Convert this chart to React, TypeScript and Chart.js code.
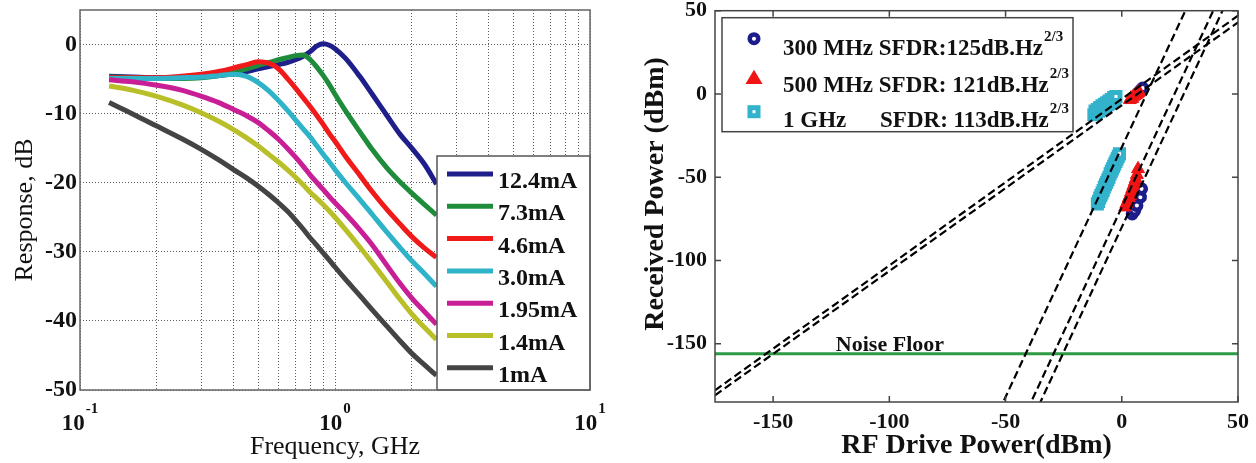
import React, { useEffect, useRef } from 'react';
import { Chart, registerables } from 'chart.js';
Chart.register(...registerables);

const SERIF = '"Liberation Serif", "Times New Roman", serif';
const INK = '#111111';

// ---------------- Left panel data ----------------
const FREQ_GHZ = [0.13, 0.16, 0.2, 0.25, 0.3, 0.35, 0.4, 0.45, 0.5, 0.55, 0.6, 0.65, 0.7, 0.75, 0.8, 0.85, 0.9, 0.95, 1.0, 1.1, 1.25, 1.4, 1.6, 1.8, 2.0, 2.25, 2.5];
const CURRENT_LABELS = ['12.4mA', '7.3mA', '4.6mA', '3.0mA', '1.95mA', '1.4mA', '1mA'];
const CURVE_COLORS = ['#1f1f8c', '#1f8c3c', '#f01a1a', '#2fb3c8', '#c81e96', '#b8bf28', '#444444'];
const RESP_12_4 = [-4.6, -4.7, -4.8, -4.8, -4.7, -4.5, -4.2, -3.9, -3.5, -3.2, -2.9, -2.6, -2.2, -1.7, -1.0, -0.2, 0.1, -0.1, -0.6, -2.0, -4.6, -7.2, -10.3, -13.0, -15.0, -17.4, -20.2];
const RESP_7_3 = [-4.7, -4.8, -4.9, -4.9, -4.8, -4.5, -4.0, -3.5, -3.0, -2.6, -2.2, -1.9, -1.6, -1.5, -2.2, -3.3, -4.5, -5.8, -7.2, -9.6, -12.6, -15.2, -17.9, -19.9, -21.5, -23.2, -24.7];
const RESP_4_6 = [-4.8, -4.8, -4.8, -4.6, -4.3, -3.9, -3.4, -2.9, -2.5, -2.7, -3.5, -4.9, -6.3, -7.7, -9.0, -10.3, -11.6, -12.9, -14.0, -16.2, -18.9, -21.3, -23.9, -26.0, -27.8, -29.5, -30.8];
const RESP_3_0 = [-4.9, -4.9, -4.9, -4.8, -4.7, -4.5, -4.3, -4.6, -5.5, -6.7, -8.1, -9.5, -10.9, -12.2, -13.4, -14.7, -15.9, -17.0, -18.1, -20.0, -22.4, -24.6, -27.2, -29.4, -31.3, -33.2, -35.0];
const RESP_1_95 = [-5.1, -5.4, -5.9, -6.6, -7.5, -8.4, -9.4, -10.3, -11.3, -12.5, -13.7, -15.0, -16.3, -17.6, -18.9, -20.0, -21.0, -22.0, -22.9, -24.5, -26.8, -29.0, -32.0, -34.6, -36.7, -38.7, -40.5];
const RESP_1_4 = [-6.0, -6.6, -7.5, -8.7, -9.9, -11.1, -12.3, -13.5, -14.7, -15.9, -17.0, -18.1, -19.2, -20.3, -21.4, -22.3, -23.2, -24.1, -25.0, -26.8, -29.3, -31.6, -34.4, -36.9, -39.0, -41.0, -42.7];
const RESP_1_0 = [-8.4, -10.0, -11.8, -13.6, -15.2, -16.7, -18.1, -19.3, -20.5, -21.7, -22.9, -24.1, -25.4, -26.7, -28.0, -29.1, -30.2, -31.2, -32.2, -34.0, -36.3, -38.4, -40.8, -42.9, -44.7, -46.4, -47.9];
const RESP_SERIES = [RESP_12_4, RESP_7_3, RESP_4_6, RESP_3_0, RESP_1_95, RESP_1_4, RESP_1_0];
const LEFT_Y_TICKS = [-50, -40, -30, -20, -10, 0];
const LEFT_X_GRID = [0.1, 0.2, 0.3, 0.4, 0.5, 0.6, 0.7, 0.8, 0.9, 1, 2, 3, 4, 5, 6, 7, 8, 9, 10];
const LEFT_X_MAJOR = [0.1, 1, 10];
const LEFT_X_EXP = ['-1', '0', '1'];

// ---------------- Right panel data ----------------
const RIGHT_X_TICKS = [-150, -100, -50, 0, 50];
const RIGHT_Y_TICKS = [-150, -100, -50, 0, 50];
const FUND_X = [-175, 50];
const FUND_Y_A = [-178, 47];
const FUND_Y_B = [-181, 43];
const IMD3_A_X = [-55, 30];
const IMD3_A_Y = [-197, 58];
const IMD3_B_X = [-45, 42];
const IMD3_B_Y = [-203, 58];
const IMD3_C_X = [-40, 46];
const IMD3_C_Y = [-200, 58];
const NOISE_X = [-175, 50];
const NOISE_Y = [-156, -156];
const NOISE_LABEL_X = -123;

const GHZ1_FUND_X = [-12, -11.5, -11, -10.5, -10, -9.5, -9, -8.5, -8, -7.5, -7, -6.5, -6, -5.5, -5, -4.5, -4, -3.5, -3, -2.5];
const GHZ1_FUND_Y = [-12.5, -10.2, -11.4, -9.3, -10.4, -8.2, -9.5, -7.1, -8.6, -6.2, -7.4, -5.3, -6.5, -4.2, -5.6, -3.3, -4.5, -2.2, -3.4, -1.5];
const GHZ1_IMD_X = [-10.5, -10, -9.5, -9, -8.5, -8, -7.5, -7, -6.5, -6, -5.5, -5, -4.5, -4, -3.5, -3, -2.5, -2, -1.5, -1];
const GHZ1_IMD_Y = [-66, -64.5, -62.5, -61, -59.5, -58, -56, -54.5, -53, -51.5, -50, -48, -46.5, -45, -43.5, -42, -40.5, -39, -37.5, -36];
const MHZ500_FUND_X = [3.5, 4, 4.5, 5, 5.5, 6, 6.5, 7, 7.5];
const MHZ500_FUND_Y = [-3.5, -2.5, -2.8, -1.5, -1.0, -0.5, 0, 0.5, 1.2];
const MHZ500_IMD_X = [1.5, 2, 2.5, 3, 3.5, 4, 4.5, 5, 5.5, 6, 6.5, 7];
const MHZ500_IMD_Y = [-68, -66, -64.5, -62.5, -61, -59, -57, -55, -53, -51, -48.5, -45];
const MHZ300_FUND_X = [7, 8, 9];
const MHZ300_FUND_Y = [0.5, 2, 3.5];
const MHZ300_IMD_X = [4.5, 5.5, 6.5, 8, 8.5];
const MHZ300_IMD_Y = [-72, -70, -67, -62, -57];

const LEGEND_MAIN = ['300 MHz SFDR:125dB.Hz', '500 MHz SFDR: 121dB.Hz', 'SFDR: 113dB.Hz'];
const LEGEND_PREFIX3 = '1 GHz';
const LEGEND_SUP = '2/3';
const NAVY = '#1c1c8a';
const RED = '#f01414';
const CYAN = '#33b2cc';
const NOISE_GREEN = '#2e9a44';

const pts = (xs: number[], ys: number[]) => xs.map((x, i) => ({ x, y: ys[i] }));
const noPad = (s: any) => { s.paddingTop = 0; s.paddingBottom = 0; s.paddingLeft = 0; s.paddingRight = 0; };

// ---------------- Left chart ----------------
const leftDeco = {
  id: 'leftDeco',
  afterDatasetsDraw(chart: any) {
    const { ctx, chartArea: a } = chart;
    ctx.save();
    const bw = 153, bh = 234;
    const bx = a.right - bw, by = a.bottom - bh;
    ctx.fillStyle = '#fff';
    ctx.fillRect(bx, by, bw, bh);
    ctx.strokeStyle = '#555';
    ctx.lineWidth = 1.5;
    ctx.strokeRect(bx, by, bw, bh);
    ctx.font = `bold 24px ${SERIF}`;
    ctx.textBaseline = 'alphabetic';
    ctx.textAlign = 'left';
    CURRENT_LABELS.forEach((lab, i) => {
      const ly = by + 18 + i * 32.3;
      ctx.strokeStyle = CURVE_COLORS[i];
      ctx.lineWidth = 5;
      ctx.beginPath();
      ctx.moveTo(bx + 10, ly);
      ctx.lineTo(bx + 56, ly);
      ctx.stroke();
      ctx.fillStyle = INK;
      ctx.fillText(lab, bx + 61, ly + 14);
    });
    ctx.strokeStyle = '#666';
    ctx.lineWidth = 1.5;
    ctx.strokeRect(a.left, a.top, a.right - a.left, a.bottom - a.top);
    ctx.restore();
  },
  afterDraw(chart: any) {
    const { ctx, chartArea: a, scales } = chart;
    ctx.save();
    ctx.fillStyle = INK;
    LEFT_X_MAJOR.forEach((v, i) => {
      const px = scales.x.getPixelForValue(v);
      ctx.font = `bold 23px ${SERIF}`;
      const w10 = ctx.measureText('10').width;
      ctx.font = `bold 15px ${SERIF}`;
      const we = ctx.measureText(LEFT_X_EXP[i]).width;
      const start = px - (w10 + we + 1) / 2;
      ctx.textAlign = 'left';
      ctx.textBaseline = 'alphabetic';
      ctx.font = `bold 23px ${SERIF}`;
      ctx.fillText('10', start, 430);
      ctx.font = `bold 15px ${SERIF}`;
      ctx.fillText(LEFT_X_EXP[i], start + w10 + 1, 413);
    });
    ctx.font = `26px ${SERIF}`;
    ctx.textAlign = 'center';
    ctx.textBaseline = 'middle';
    ctx.fillText('Frequency, GHz', (a.left + a.right) / 2, 447);
    ctx.translate(25, (a.top + a.bottom) / 2 + 10);
    ctx.rotate(-Math.PI / 2);
    ctx.fillText('Response, dB', 0, 0);
    ctx.restore();
  },
};

function LeftPanel() {
  const ref = useRef<HTMLCanvasElement>(null);
  useEffect(() => {
    const gridOpts = { color: 'rgba(40,40,40,0.75)', lineWidth: 1, drawTicks: false };
    const chart = new Chart(ref.current as HTMLCanvasElement, {
      type: 'line',
      data: {
        datasets: RESP_SERIES.map((ys, i) => ({
          label: CURRENT_LABELS[i],
          data: pts(FREQ_GHZ, ys),
          borderColor: CURVE_COLORS[i],
          backgroundColor: CURVE_COLORS[i],
          borderWidth: 5,
          pointRadius: 0,
          cubicInterpolationMode: 'monotone' as const,
          fill: false,
          order: 10 - i,
        })),
      },
      options: {
        animation: false,
        responsive: false,
        maintainAspectRatio: false,
        parsing: false,
        layout: { padding: { left: 0, right: 38, top: 10, bottom: 0 } },
        plugins: { legend: { display: false }, tooltip: { enabled: false } },
        scales: {
          x: {
            type: 'logarithmic',
            min: 0.1,
            max: 10,
            afterBuildTicks: (s: any) => { s.ticks = LEFT_X_GRID.map((v) => ({ value: v })); },
            afterFit: (s: any) => { s.height = 73; noPad(s); },
            ticks: { display: false },
            grid: gridOpts,
            border: { display: false, dash: [1, 2] },
          },
          y: {
            type: 'linear',
            min: -50,
            max: 5,
            afterBuildTicks: (s: any) => { s.ticks = LEFT_Y_TICKS.map((v) => ({ value: v })); },
            afterFit: (s: any) => { s.width = 80; noPad(s); },
            ticks: { font: { family: SERIF, size: 24, weight: 'bold' }, color: INK, padding: 3 },
            grid: gridOpts,
            border: { display: false, dash: [1, 2] },
          },
        },
      } as any,
      plugins: [leftDeco],
    });
    return () => chart.destroy();
  }, []);
  return <canvas ref={ref} width={628} height={463} style={{ position: 'absolute', left: 0, top: 0, width: 628, height: 463 }} />;
}

// ---------------- Right chart ----------------
function drawMarker(ctx: CanvasRenderingContext2D, kind: string, x: number, y: number) {
  ctx.save();
  if (kind === 'circle') {
    ctx.beginPath();
    ctx.arc(x, y, 4.3, 0, Math.PI * 2);
    ctx.fillStyle = '#fff';
    ctx.fill();
    ctx.lineWidth = 4.5;
    ctx.strokeStyle = NAVY;
    ctx.stroke();
  } else if (kind === 'triangle') {
    const r = 9;
    ctx.beginPath();
    ctx.moveTo(x, y - r);
    ctx.lineTo(x + r * 0.95, y + r * 0.6);
    ctx.lineTo(x - r * 0.95, y + r * 0.6);
    ctx.closePath();
    ctx.fillStyle = RED;
    ctx.fill();
  } else {
    ctx.fillStyle = CYAN;
    ctx.fillRect(x - 6.5, y - 6.5, 13, 13);
    ctx.fillStyle = '#fff';
    ctx.fillRect(x - 1.5, y - 1.5, 3, 3);
  }
  ctx.restore();
}

const rightDeco = {
  id: 'rightDeco',
  afterDatasetsDraw(chart: any) {
    const { ctx, chartArea: a, scales } = chart;
    ctx.save();
    ctx.fillStyle = INK;
    ctx.font = `bold 22px ${SERIF}`;
    ctx.textAlign = 'left';
    ctx.textBaseline = 'alphabetic';
    ctx.fillText('Noise Floor', scales.x.getPixelForValue(NOISE_LABEL_X), scales.y.getPixelForValue(NOISE_Y[0]) - 3);
    ctx.strokeStyle = '#444';
    ctx.lineWidth = 1.5;
    ctx.strokeRect(a.left, a.top, a.right - a.left, a.bottom - a.top);
    ctx.beginPath();
    RIGHT_X_TICKS.forEach((v) => {
      const px = scales.x.getPixelForValue(v);
      ctx.moveTo(px, a.bottom); ctx.lineTo(px, a.bottom - 6);
      ctx.moveTo(px, a.top); ctx.lineTo(px, a.top + 6);
    });
    RIGHT_Y_TICKS.forEach((v) => {
      const py = scales.y.getPixelForValue(v);
      ctx.moveTo(a.left, py); ctx.lineTo(a.left + 6, py);
      ctx.moveTo(a.right, py); ctx.lineTo(a.right - 6, py);
    });
    ctx.stroke();
    const bx = a.left + 7, by = a.top + 7, bw = 351, bh = 114;
    ctx.fillStyle = '#fff';
    ctx.fillRect(bx, by, bw, bh);
    ctx.strokeStyle = '#444';
    ctx.lineWidth = 1.5;
    ctx.strokeRect(bx, by, bw, bh);
    const kinds = ['circle', 'triangle', 'square'];
    const markerY = [by + 21, by + 61, by + 94];
    const baseY = [by + 37, by + 74, by + 109];
    const tx = bx + 61;
    ctx.font = `bold 23px ${SERIF}`;
    const w2 = ctx.measureText(LEGEND_MAIN[1]).width;
    kinds.forEach((k, i) => {
      drawMarker(ctx, k, bx + 32, markerY[i]);
      ctx.fillStyle = INK;
      ctx.font = `bold 23px ${SERIF}`;
      let x0 = tx;
      if (i === 2) {
        ctx.fillText(LEGEND_PREFIX3, tx, baseY[i]);
        x0 = tx + w2 - ctx.measureText(LEGEND_MAIN[2]).width;
      }
      ctx.fillText(LEGEND_MAIN[i], x0, baseY[i]);
      const w = ctx.measureText(LEGEND_MAIN[i]).width;
      ctx.font = `bold 15px ${SERIF}`;
      ctx.fillText(LEGEND_SUP, x0 + w + 1, baseY[i] - 14);
    });
    ctx.restore();
  },
  afterDraw(chart: any) {
    const { ctx, chartArea: a } = chart;
    ctx.save();
    ctx.fillStyle = INK;
    ctx.font = `bold 28px ${SERIF}`;
    ctx.textAlign = 'center';
    ctx.textBaseline = 'middle';
    ctx.fillText('RF Drive Power(dBm)', (a.left + a.right) / 2, 446);
    ctx.translate(28, 194);
    ctx.rotate(-Math.PI / 2);
    ctx.fillText('Received Power (dBm)', 0, 0);
    ctx.restore();
  },
};

function RightPanel() {
  const ref = useRef<HTMLCanvasElement>(null);
  useEffect(() => {
    const dashLine = (xs: number[], ys: number[]) => ({
      data: pts(xs, ys),
      showLine: true,
      borderColor: '#000',
      borderWidth: 2.2,
      borderDash: [8, 4],
      pointRadius: 0,
      fill: false,
      order: 1,
    });
    const square = { pointStyle: 'rect', pointRadius: 5.7, borderWidth: 5, borderColor: CYAN, backgroundColor: '#fff', order: 12 };
    const tri = { pointStyle: 'triangle', pointRadius: 7.5, borderWidth: 1, borderColor: RED, backgroundColor: RED, order: 11 };
    const ring = { pointStyle: 'circle', pointRadius: 4.3, borderWidth: 4.5, borderColor: NAVY, backgroundColor: '#fff', order: 13 };
    const tickFont = { family: SERIF, size: 22, weight: 'bold' };
    const chart = new Chart(ref.current as HTMLCanvasElement, {
      type: 'scatter',
      data: {
        datasets: [
          { data: pts(GHZ1_FUND_X, GHZ1_FUND_Y), ...square },
          { data: pts(GHZ1_IMD_X, GHZ1_IMD_Y), ...square },
          { data: pts(MHZ300_FUND_X, MHZ300_FUND_Y), ...ring },
          { data: pts(MHZ300_IMD_X, MHZ300_IMD_Y), ...ring },
          { data: pts(MHZ500_FUND_X, MHZ500_FUND_Y), ...tri },
          { data: pts(MHZ500_IMD_X, MHZ500_IMD_Y), ...tri },
          { data: pts(NOISE_X, NOISE_Y), showLine: true, borderColor: NOISE_GREEN, borderWidth: 3, pointRadius: 0, order: 2 },
          dashLine(FUND_X, FUND_Y_A),
          dashLine(FUND_X, FUND_Y_B),
          dashLine(IMD3_A_X, IMD3_A_Y),
          dashLine(IMD3_B_X, IMD3_B_Y),
          dashLine(IMD3_C_X, IMD3_C_Y),
        ],
      },
      options: {
        animation: false,
        responsive: false,
        maintainAspectRatio: false,
        parsing: false,
        layout: { padding: { left: 0, right: 18, top: 5, bottom: 0 } },
        plugins: { legend: { display: false }, tooltip: { enabled: false } },
        scales: {
          x: {
            type: 'linear',
            min: -175,
            max: 50,
            afterBuildTicks: (s: any) => { s.ticks = RIGHT_X_TICKS.map((v) => ({ value: v })); },
            afterFit: (s: any) => { s.height = 61; noPad(s); },
            ticks: { font: tickFont, color: INK, padding: 7 },
            grid: { display: false, drawTicks: false },
            border: { display: false },
          },
          y: {
            type: 'linear',
            min: -185,
            max: 50,
            afterBuildTicks: (s: any) => { s.ticks = RIGHT_Y_TICKS.map((v) => ({ value: v })); },
            afterFit: (s: any) => { s.width = 87; noPad(s); },
            ticks: { font: tickFont, color: INK, padding: 8 },
            grid: { display: false, drawTicks: false },
            border: { display: false },
          },
        },
      } as any,
      plugins: [rightDeco],
    });
    return () => chart.destroy();
  }, []);
  return <canvas ref={ref} width={628} height={463} style={{ position: 'absolute', left: 628, top: 0, width: 628, height: 463 }} />;
}

export default function App() {
  return (
    <div style={{ position: 'absolute', left: 0, top: 0, width: 1256, height: 463, background: '#fff', overflow: 'hidden' }}>
      <LeftPanel />
      <RightPanel />
    </div>
  );
}
